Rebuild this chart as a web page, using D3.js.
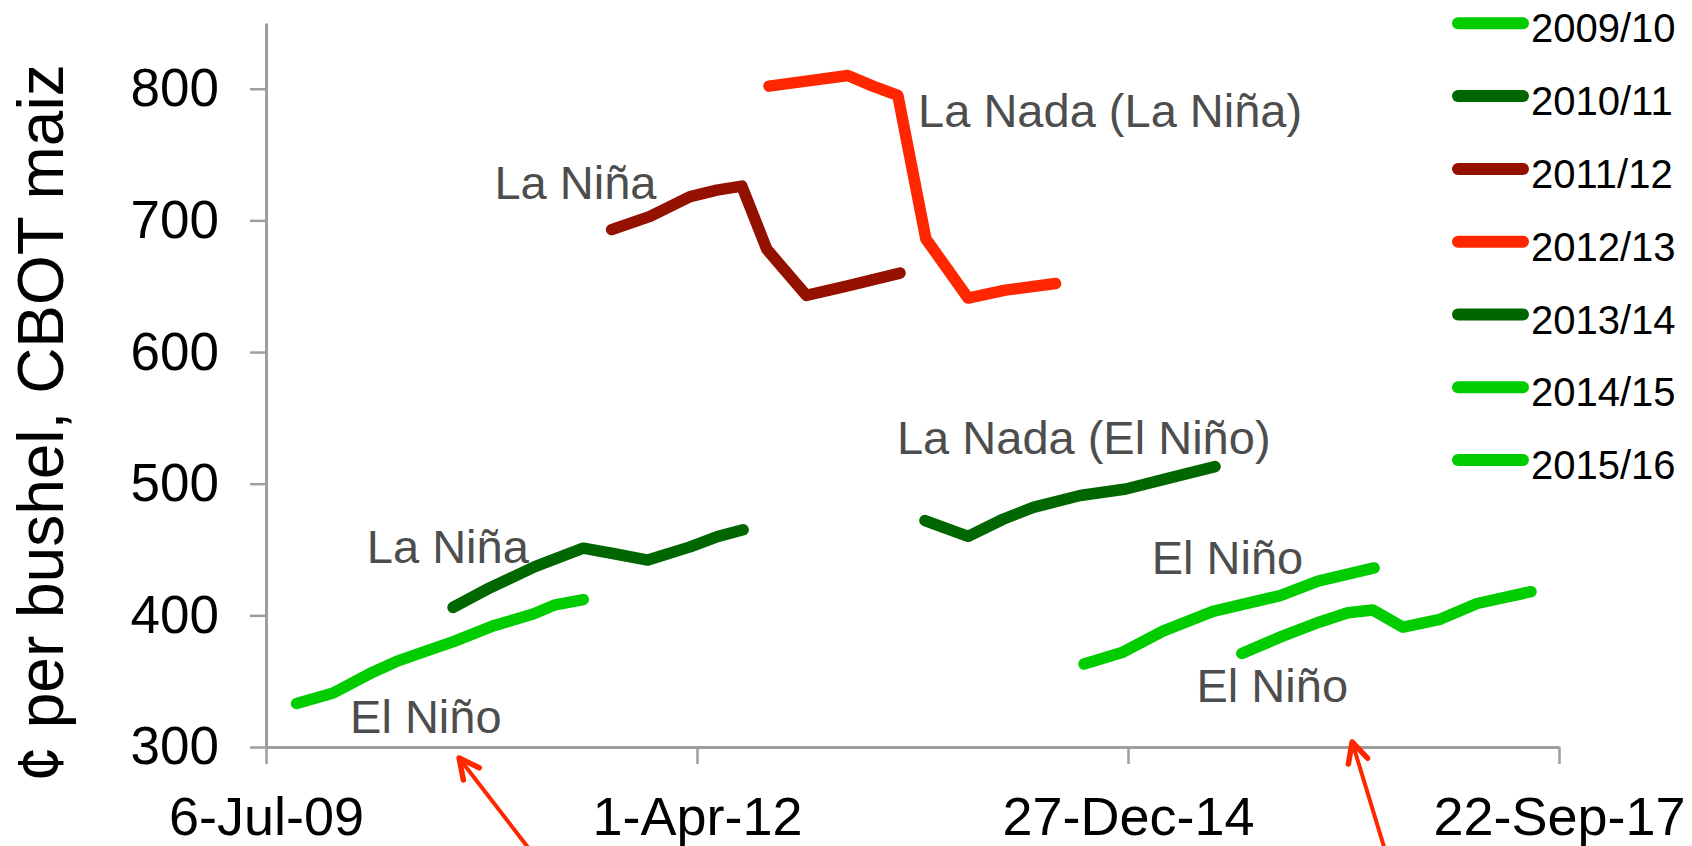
<!DOCTYPE html>
<html>
<head>
<meta charset="utf-8">
<script src="https://cdn.jsdelivr.net/npm/d3@7"></script>
<style>
  html, body { margin: 0; padding: 0; background: #fff; }
  svg { display: block; font-family: "Liberation Sans", Arial, sans-serif; }
</style>
</head>
<body>
<svg id="chart" width="1692" height="846"></svg>
<script>
// ---- Data (x = Excel serial dates, y = cents per bushel) ----
const seasons = ["2009/10", "2010/11", "2011/12", "2012/13", "2013/14", "2014/15", "2015/16"];
const seasonColors = ["#00CC00", "#006600", "#941100", "#FF2600", "#006600", "#00CC00", "#00CC00"];

const s0910_x = [40071, 40156, 40249, 40303, 40381, 40435, 40527, 40620, 40671, 40736];
const s0910_y = [333, 341, 357, 365, 374, 380, 392, 401, 408, 412];

const s1011_x = [40434, 40520, 40624, 40736, 40805, 40886, 40984, 41049, 41107];
const s1011_y = [406, 421, 437, 451, 447, 442, 452, 460, 465];

const s1112_x = [40802, 40891, 40984, 41046, 41104, 41162, 41254, 41347, 41471];
const s1112_y = [693, 703, 718, 723, 726, 678, 643, 650, 660];

const s1213_x = [41167, 41258, 41350, 41408, 41466, 41531, 41629, 41715, 41832];
const s1213_y = [802, 806, 810, 802, 795, 686, 641, 647, 652];

const s1314_x = [41529, 41629, 41710, 41780, 41889, 41995, 42104, 42202];
const s1314_y = [472, 460, 473, 482, 491, 496, 505, 513];

const s1415_x = [41898, 41988, 42081, 42197, 42353, 42441, 42571];
const s1415_y = [363, 372, 388, 403, 415, 426, 436];

const s1516_x = [42264, 42357, 42445, 42510, 42568, 42638, 42724, 42810, 42935];
const s1516_y = [371, 384, 395, 402, 404, 391, 397, 409, 418];

const seriesX = [s0910_x, s1011_x, s1112_x, s1213_x, s1314_x, s1415_x, s1516_x];
const seriesY = [s0910_y, s1011_y, s1112_y, s1213_y, s1314_y, s1415_y, s1516_y];

const yTicks = [300, 400, 500, 600, 700, 800];
const xTicks = [40000, 41000, 42000, 43000]; // 6-Jul-09, 1-Apr-12, 27-Dec-14, 22-Sep-17

const noteText = ["La Niña", "La Nada (La Niña)", "La Niña", "El Niño", "La Nada (El Niño)", "El Niño", "El Niño"];
const noteX = [40530, 41513, 40234, 40195, 41464, 42055, 42159];
const noteY = [716, 771, 439.5, 310.4, 522.5, 431.4, 334.4];

const arrowFromX = [40612, 42596];
const arrowFromY = [222, 222];
const arrowToX = [40448, 42520];
const arrowToY = [291.6, 303.8];

const yTitle = "¢ per bushel, CBOT maiz";

// ---- Helpers ----
const serialToDate = s => new Date(Date.UTC(1899, 11, 30) + s * 864e5);

const svg = d3.select("#chart");

const x = d3.scaleUtc()
  .domain([serialToDate(40000), serialToDate(43000)])
  .range([266, 1559]);
const y = d3.scaleLinear()
  .domain([300, 850])
  .range([747, 22.9]);

const axisColor = "#9e9e9e";
const fmt = d3.utcFormat("%-d-%b-%y");

// Y axis
const yAxis = svg.append("g")
  .attr("transform", "translate(266,0)")
  .call(d3.axisLeft(y).tickValues(yTicks).tickSize(16).tickSizeOuter(0).tickPadding(31));
yAxis.select(".domain").attr("stroke", axisColor).attr("stroke-width", 3);
yAxis.selectAll(".tick line").attr("stroke", axisColor).attr("stroke-width", 2.5);
yAxis.selectAll(".tick text")
  .attr("fill", "#000")
  .style("font-size", "53px")
  .style("font-family", "'Liberation Sans', Arial, sans-serif");

// X axis
const xAxis = svg.append("g")
  .attr("transform", "translate(0,747)")
  .call(d3.axisBottom(x)
    .tickValues(xTicks.map(serialToDate))
    .tickFormat(fmt)
    .tickSize(17).tickSizeOuter(0).tickPadding(33));
xAxis.select(".domain").attr("stroke", axisColor).attr("stroke-width", 3);
xAxis.selectAll(".tick line").attr("stroke", axisColor).attr("stroke-width", 2.5);
xAxis.selectAll(".tick text")
  .attr("fill", "#000")
  .style("font-size", "54px")
  .style("font-family", "'Liberation Sans', Arial, sans-serif");

// Y title
svg.append("text")
  .attr("transform", "translate(63,423) rotate(-90)")
  .attr("text-anchor", "middle")
  .attr("fill", "#000")
  .style("font-size", "64px")
  .text(yTitle);

// Lines
const line = d3.line()
  .x(d => x(serialToDate(d[0])))
  .y(d => y(d[1]));

seasons.forEach((name, i) => {
  const pts = seriesX[i].map((sx, k) => [sx, seriesY[i][k]]);
  svg.append("path")
    .datum(pts)
    .attr("d", line)
    .attr("fill", "none")
    .attr("stroke", seasonColors[i])
    .attr("stroke-width", 11.5)
    .attr("stroke-linecap", "round")
    .attr("stroke-linejoin", "round");
});

// Annotations
noteText.forEach((t, i) => {
  svg.append("text")
    .attr("x", x(serialToDate(noteX[i])))
    .attr("y", y(noteY[i]))
    .attr("fill", "#4d4d4d")
    .style("font-size", "47px")
    .text(t);
});

// Arrows (open arrowheads)
const defs = svg.append("defs");
defs.append("marker")
  .attr("id", "arrowhead")
  .attr("viewBox", "-30 -20 40 40")
  .attr("refX", 0)
  .attr("refY", 0)
  .attr("markerWidth", 40)
  .attr("markerHeight", 40)
  .attr("markerUnits", "userSpaceOnUse")
  .attr("orient", "auto")
  .append("path")
  .attr("d", "M-20,-10 L0,0 L-20,10")
  .attr("fill", "none")
  .attr("stroke", "#FF2600")
  .attr("stroke-width", 5.5)
  .attr("stroke-linecap", "round")
  .attr("stroke-linejoin", "round");

arrowFromX.forEach((fx, i) => {
  svg.append("line")
    .attr("x1", x(serialToDate(fx)))
    .attr("y1", y(arrowFromY[i]))
    .attr("x2", x(serialToDate(arrowToX[i])))
    .attr("y2", y(arrowToY[i]))
    .attr("stroke", "#FF2600")
    .attr("stroke-width", 4)
    .attr("stroke-linecap", "round")
    .attr("marker-end", "url(#arrowhead)");
});

// Legend
const legend = svg.append("g");
seasons.forEach((name, i) => {
  const ly = 23.3 + i * 72.8;
  legend.append("line")
    .attr("x1", 1458).attr("x2", 1523)
    .attr("y1", ly).attr("y2", ly)
    .attr("stroke", seasonColors[i])
    .attr("stroke-width", 12)
    .attr("stroke-linecap", "round");
  legend.append("text")
    .attr("x", 1531)
    .attr("y", ly + 19)
    .attr("fill", "#000")
    .style("font-size", "40px")
    .text(name);
});
</script>
</body>
</html>
